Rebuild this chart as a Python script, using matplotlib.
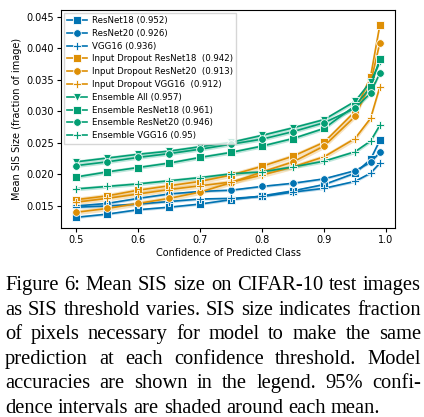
import numpy as np
import matplotlib
matplotlib.use("Agg")
import matplotlib.pyplot as plt

# confidence thresholds (x) and mean SIS size per model
conf = [0.5, 0.55, 0.6, 0.65, 0.7, 0.75, 0.8, 0.85, 0.9, 0.95, 0.975, 0.99]

resnet18 = [0.0132, 0.0137, 0.0144, 0.0148, 0.0153, 0.0160, 0.0166, 0.0174, 0.0184, 0.0202, 0.0224, 0.0254]
resnet20 = [0.0150, 0.0154, 0.0162, 0.0169, 0.0173, 0.0175, 0.0181, 0.0186, 0.0193, 0.0206, 0.0219, 0.0235]
vgg16 = [0.0148, 0.0150, 0.0153, 0.0157, 0.0161, 0.0162, 0.0165, 0.0172, 0.0178, 0.0189, 0.0202, 0.0218]

id_resnet18 = [0.0160, 0.0166, 0.0175, 0.0182, 0.0189, 0.0199, 0.0213, 0.0229, 0.0251, 0.0300, 0.0355, 0.0437]
id_resnet20 = [0.0140, 0.0146, 0.0154, 0.0162, 0.0172, 0.0187, 0.0204, 0.0220, 0.0245, 0.0292, 0.0345, 0.0409]
id_vgg16 = [0.0156, 0.0162, 0.0169, 0.0176, 0.0182, 0.0188, 0.0199, 0.0212, 0.0228, 0.0257, 0.0289, 0.0339]

ens_all = [0.0220, 0.0226, 0.0232, 0.0237, 0.0244, 0.0251, 0.0262, 0.0274, 0.0287, 0.0316, 0.0347, 0.0378]
ens_resnet18 = [0.0196, 0.0204, 0.0211, 0.0218, 0.0227, 0.0235, 0.0245, 0.0257, 0.0273, 0.0309, 0.0338, 0.0384]
ens_resnet20 = [0.0214, 0.0220, 0.0227, 0.0233, 0.0240, 0.0248, 0.0256, 0.0268, 0.0282, 0.0305, 0.0329, 0.0361]
ens_vgg16 = [0.0177, 0.0181, 0.0185, 0.0190, 0.0195, 0.0201, 0.0204, 0.0212, 0.0221, 0.0236, 0.0253, 0.0278]

labels = ['ResNet18 (0.952)', 'ResNet20 (0.926)', 'VGG16 (0.936)',
          'Input Dropout ResNet18  (0.942)', 'Input Dropout ResNet20  (0.913)',
          'Input Dropout VGG16  (0.912)', 'Ensemble All (0.957)',
          'Ensemble ResNet18 (0.961)', 'Ensemble ResNet20 (0.946)', 'Ensemble VGG16 (0.95)']
# half width of the shaded 95% interval, roughly
ci_half = [0.0002, 0.0002, 0.0002, 0.0004, 0.0004, 0.0004, 0.0003, 0.0003, 0.0003, 0.0003]

blue, orange, green = '#0173b2', '#de8f05', '#029e73'
series = [resnet18, resnet20, vgg16, id_resnet18, id_resnet20, id_vgg16,
          ens_all, ens_resnet18, ens_resnet20, ens_vgg16]
colors = [blue] * 3 + [orange] * 3 + [green] * 4
markers = ['s', 'o', 'P', 's', 'o', 'P', 'v', 's', 'o', 'P']

fig = plt.figure(figsize=(4.24, 4.17), dpi=100)
ax = fig.add_axes([61 / 424, 1 - 228 / 417, 334 / 424, 218 / 417])

x = np.array(conf)
for y, c, m, lab, h in zip(series, colors, markers, labels, ci_half):
    y = np.array(y)
    ax.fill_between(x, y - h, y + h, color=c, alpha=0.25, lw=0)
    ax.plot(x, y, color=c, marker=m, markersize=5.5, markeredgecolor='white',
            markeredgewidth=0.6, lw=1.2, label=lab)

ax.set_xticks([0.5, 0.6, 0.7, 0.8, 0.9, 1.0])
ax.set_yticks([0.015, 0.020, 0.025, 0.030, 0.035, 0.040, 0.045])
ax.set_ylim(0.0115, 0.0461)
ax.tick_params(labelsize=7, length=3, width=0.8, pad=2)
ax.set_xlabel('Confidence of Predicted Class', fontsize=7, labelpad=2)
ax.set_ylabel('Mean SIS Size (fraction of image)', fontsize=7, labelpad=3)
for s in ax.spines.values():
    s.set_linewidth(0.8)

ax.legend(loc='upper left', fontsize=6.2, handlelength=2.3, handletextpad=0.6,
          labelspacing=0.44, borderaxespad=0.3, borderpad=0.4, fancybox=False,
          framealpha=0.8, edgecolor='#cccccc')

# caption, justified like the paper text
caption = ["Figure 6: Mean SIS size on CIFAR-10 test images",
           "as SIS threshold varies. SIS size indicates fraction",
           "of pixels necessary for model to make the same",
           "prediction at each confidence threshold. Model",
           "accuracies are shown in the legend. 95% confi-",
           "dence intervals are shaded around each mean."]
W, H = 424, 417
left, right = 5, 421
base0, step = 290, 24.6
renderer = fig.canvas.get_renderer()
for i, line in enumerate(caption):
    yb = 1 - (base0 + i * step) / H
    words = line.split(' ')
    objs = [fig.text(0, yb, w, fontsize=14.8, family='Liberation Serif',
                     va='baseline', ha='left') for w in words]
    widths = [o.get_window_extent(renderer).width for o in objs]
    if i < len(caption) - 1 and len(words) > 1:
        gap = (right - left - sum(widths)) / (len(words) - 1)
    else:
        gap = objs[0].get_fontsize() * 100 / 72 * 0.25
    xpos = left
    for o, w in zip(objs, widths):
        o.set_x(xpos / W)
        xpos += w + gap

fig.savefig('out.png', dpi=100)
